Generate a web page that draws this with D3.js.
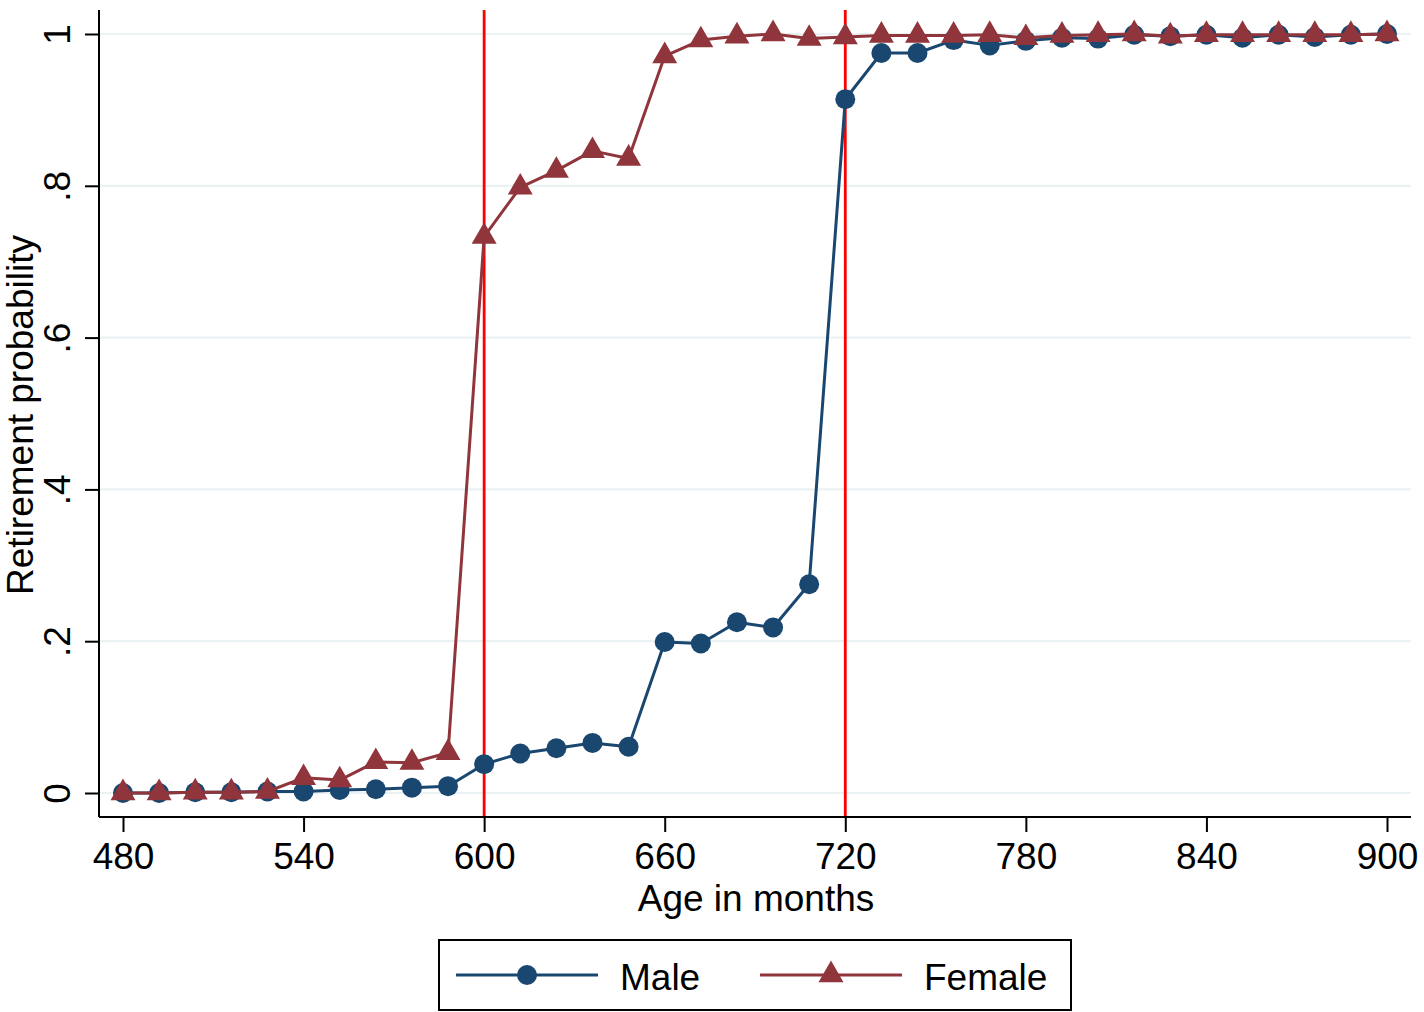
<!DOCTYPE html>
<html><head><meta charset="utf-8">
<script src="https://cdn.jsdelivr.net/npm/d3@7"></script>
<style>
html,body{margin:0;padding:0;background:#fff;}
svg{display:block;font-family:"Liberation Sans",Arial,Helvetica,sans-serif;}
</style></head>
<body>
<svg id="chart" width="1424" height="1012"></svg>
<script>
const ages = [480,492,504,516,528,540,552,564,576,588,600,612,624,636,648,660,672,684,696,708,720,732,744,756,768,780,792,804,816,828,840,852,864,876,888,900];
const male = [0.000,0.000,0.001,0.001,0.002,0.002,0.004,0.005,0.007,0.009,0.038,0.052,0.059,0.066,0.061,0.199,0.197,0.225,0.218,0.275,0.914,0.975,0.975,0.992,0.985,0.991,0.995,0.994,0.999,0.997,0.999,0.995,0.999,0.996,0.999,1.000];
const female = [0.000,0.000,0.001,0.001,0.002,0.020,0.017,0.041,0.040,0.053,0.733,0.798,0.820,0.846,0.836,0.971,0.992,0.997,1.000,0.994,0.996,0.998,0.998,0.998,0.999,0.995,0.998,0.999,1.000,0.997,0.999,0.999,0.999,0.999,0.999,1.000];
const xTicks = [480,540,600,660,720,780,840,900];
const yTicks = [0,0.2,0.4,0.6,0.8,1];
const yTickLabels = ["0",".2",".4",".6",".8","1"];
const refLines = [600,720];
const seriesNames = ["Male","Female"];

const svg = d3.select("#chart");
const FS = 37;
const C_MALE = "#1a476f", C_FEM = "#90353b";

const x = d3.scaleLinear().domain([480,900]).range([123,1387]);
const y = d3.scaleLinear().domain([0,1]).range([793,34]);
const axL = 99, axR = 1411, axT = 10, axB = 817;

// gridlines
svg.append("g").selectAll("line").data(yTicks).join("line")
  .attr("x1",axL+1).attr("x2",axR).attr("y1",d=>y(d)).attr("y2",d=>y(d))
  .attr("stroke","#eaf2f3").attr("stroke-width",2.2);

// reference lines
svg.append("g").selectAll("line").data(refLines).join("line")
  .attr("x1",d=>x(d)).attr("x2",d=>x(d)).attr("y1",axT).attr("y2",axB)
  .attr("stroke","#ff0000").attr("stroke-width",2.8);

// axes
const yAxis = d3.axisLeft(y).tickValues(yTicks).tickSize(14).tickPadding(0).tickFormat((d,i)=>yTickLabels[i]);
const gy = svg.append("g").attr("transform",`translate(${axL},0)`).call(yAxis);
gy.select(".domain").attr("d",`M0,${axT}V${axB}`).attr("stroke","#000").attr("stroke-width",2);
gy.selectAll(".tick line").attr("stroke","#000").attr("stroke-width",2);
gy.selectAll(".tick text").attr("font-size",FS).attr("fill","#000")
  .attr("transform","translate(-29,0) rotate(-90)").attr("x",0).attr("y",0)
  .attr("dy",0).attr("text-anchor","middle");

const xAxis = d3.axisBottom(x).tickValues(xTicks).tickSize(15).tickPadding(0).tickFormat(d3.format("d"));
const gx = svg.append("g").attr("transform",`translate(0,${axB})`).call(xAxis);
gx.select(".domain").attr("d",`M${axL},0H${axR}`).attr("stroke","#000").attr("stroke-width",2);
gx.selectAll(".tick line").attr("stroke","#000").attr("stroke-width",2);
gx.selectAll(".tick text").attr("font-size",FS).attr("fill","#000").attr("y",52).attr("dy",0);
svg.selectAll(".tick text").attr("font-family","Liberation Sans, Arial, sans-serif");

// axis titles
svg.append("text").attr("x",756).attr("y",911).attr("text-anchor","middle")
  .attr("font-size",FS).text("Age in months");
svg.append("text").attr("transform","translate(33,415) rotate(-90)").attr("text-anchor","middle")
  .attr("font-size",FS).text("Retirement probability");

// series
const line = d3.line().x(d=>x(d[0])).y(d=>y(d[1]));
const maleData = ages.map((a,i)=>[a,male[i]]);
const femData = ages.map((a,i)=>[a,female[i]]);
const triSym = d3.symbol().type(d3.symbolTriangle).size(270);

svg.append("path").datum(maleData).attr("d",line).attr("fill","none")
  .attr("stroke",C_MALE).attr("stroke-width",3).attr("stroke-linejoin","round");
svg.append("g").selectAll("circle").data(maleData).join("circle")
  .attr("cx",d=>x(d[0])).attr("cy",d=>y(d[1])).attr("r",10).attr("fill",C_MALE);

svg.append("path").datum(femData).attr("d",line).attr("fill","none")
  .attr("stroke",C_FEM).attr("stroke-width",3).attr("stroke-linejoin","round");
svg.append("g").selectAll("path").data(femData).join("path")
  .attr("d",triSym).attr("transform",d=>`translate(${x(d[0])},${y(d[1])})`).attr("fill",C_FEM);

// legend
const lg = svg.append("g");
lg.append("rect").attr("x",439).attr("y",940).attr("width",632).attr("height",70)
  .attr("fill","#fff").attr("stroke","#000").attr("stroke-width",2);
const legItems = [
  {name:seriesNames[0], color:C_MALE, x1:456, x2:598, tx:620, shape:"circle"},
  {name:seriesNames[1], color:C_FEM, x1:760, x2:902, tx:924, shape:"tri"}
];
legItems.forEach(it=>{
  lg.append("line").attr("x1",it.x1).attr("x2",it.x2).attr("y1",975).attr("y2",975)
    .attr("stroke",it.color).attr("stroke-width",3);
  const mx=(it.x1+it.x2)/2;
  if(it.shape==="circle") lg.append("circle").attr("cx",mx).attr("cy",975).attr("r",10).attr("fill",it.color);
  else lg.append("path").attr("d",triSym).attr("transform",`translate(${mx},975)`).attr("fill",it.color);
  lg.append("text").attr("x",it.tx).attr("y",990).attr("font-size",FS).text(it.name);
});
</script>
</body></html>
